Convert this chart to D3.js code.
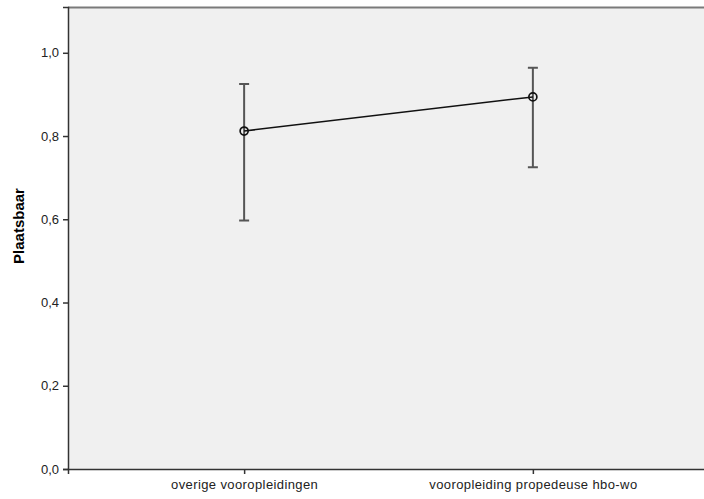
<!DOCTYPE html>
<html>
<head>
<meta charset="utf-8">
<script src="https://cdn.jsdelivr.net/npm/d3@7"></script>
<style>
  body { margin: 0; background: #fff; }
  text { font-family: Arial, "Liberation Sans", sans-serif; }
</style>
</head>
<body>
<svg id="chart" width="704" height="499"></svg>
<script>
const categories = ['overige vooropleidingen', 'vooropleiding propedeuse hbo-wo'];
const means = [0.812, 0.894];
const lower = [0.597, 0.725];
const upper = [0.925, 0.964];
const yTicks = [0, 0.2, 0.4, 0.6, 0.8, 1.0];

const margin = { top: 7, right: -5, bottom: 30, left: 68 };
const w = 704, h = 499;
const width = w - margin.left - margin.right;
const height = h - margin.top - margin.bottom;

const svg = d3.select('#chart');
const g = svg.append('g').attr('transform', `translate(${margin.left},${margin.top})`);

const x = d3.scalePoint().domain(categories).range([0, width]).padding(0.61);
const y = d3.scaleLinear().domain([0, 1.11]).range([height, 0]);

g.append('rect')
  .attr('width', width).attr('height', height)
  .attr('fill', '#f0f0f0');

// top border
g.append('line')
  .attr('x1', 0).attr('x2', width).attr('y1', 0.5).attr('y2', 0.5)
  .attr('stroke', '#7a7a7a').attr('stroke-width', 2);

const fmt = d => d3.format('.1f')(d).replace('.', ',');

const axisY = d3.axisLeft(y).tickValues(yTicks).tickFormat(fmt).tickSize(5).tickPadding(4);
const gy = g.append('g').call(axisY);
gy.select('.domain').attr('stroke', '#333').attr('stroke-width', 1.5);
gy.selectAll('.tick line').attr('stroke', '#333').attr('stroke-width', 1.5);
gy.selectAll('.tick text').attr('font-size', 13).attr('fill', '#222');

const axisX = d3.axisBottom(x).tickSize(5).tickPadding(6);
const gx = g.append('g').attr('transform', `translate(0,${height})`).call(axisX);
gx.select('.domain').attr('stroke', '#333').attr('stroke-width', 1.5);
gx.selectAll('.tick line').attr('stroke', '#333').attr('stroke-width', 1.5);
gx.selectAll('.tick text')
  .attr('font-size', 13)
  .attr('letter-spacing', 0.4)
  .attr('fill', '#222');

svg.append('text')
  .attr('transform', `translate(24,226) rotate(-90)`)
  .attr('text-anchor', 'middle')
  .attr('font-size', 15)
  .attr('font-weight', 'bold')
  .attr('fill', '#000')
  .text('Plaatsbaar');

const data = categories.map((c, i) => ({ c, m: means[i], lo: lower[i], hi: upper[i] }));

const bars = g.append('g').attr('stroke', '#555').attr('stroke-width', 2);
data.forEach(d => {
  const cx = x(d.c);
  bars.append('line').attr('x1', cx).attr('x2', cx).attr('y1', y(d.lo)).attr('y2', y(d.hi));
  bars.append('line').attr('x1', cx - 5).attr('x2', cx + 5).attr('y1', y(d.hi)).attr('y2', y(d.hi));
  bars.append('line').attr('x1', cx - 5).attr('x2', cx + 5).attr('y1', y(d.lo)).attr('y2', y(d.lo));
});

const line = d3.line().x(d => x(d.c)).y(d => y(d.m));
g.append('path')
  .datum(data)
  .attr('d', line)
  .attr('fill', 'none')
  .attr('stroke', '#111')
  .attr('stroke-width', 1.5);

g.selectAll('.pt')
  .data(data)
  .join('circle')
  .attr('class', 'pt')
  .attr('cx', d => x(d.c))
  .attr('cy', d => y(d.m))
  .attr('r', 4)
  .attr('fill', 'none')
  .attr('stroke', '#111')
  .attr('stroke-width', 1.7);
</script>
</body>
</html>
